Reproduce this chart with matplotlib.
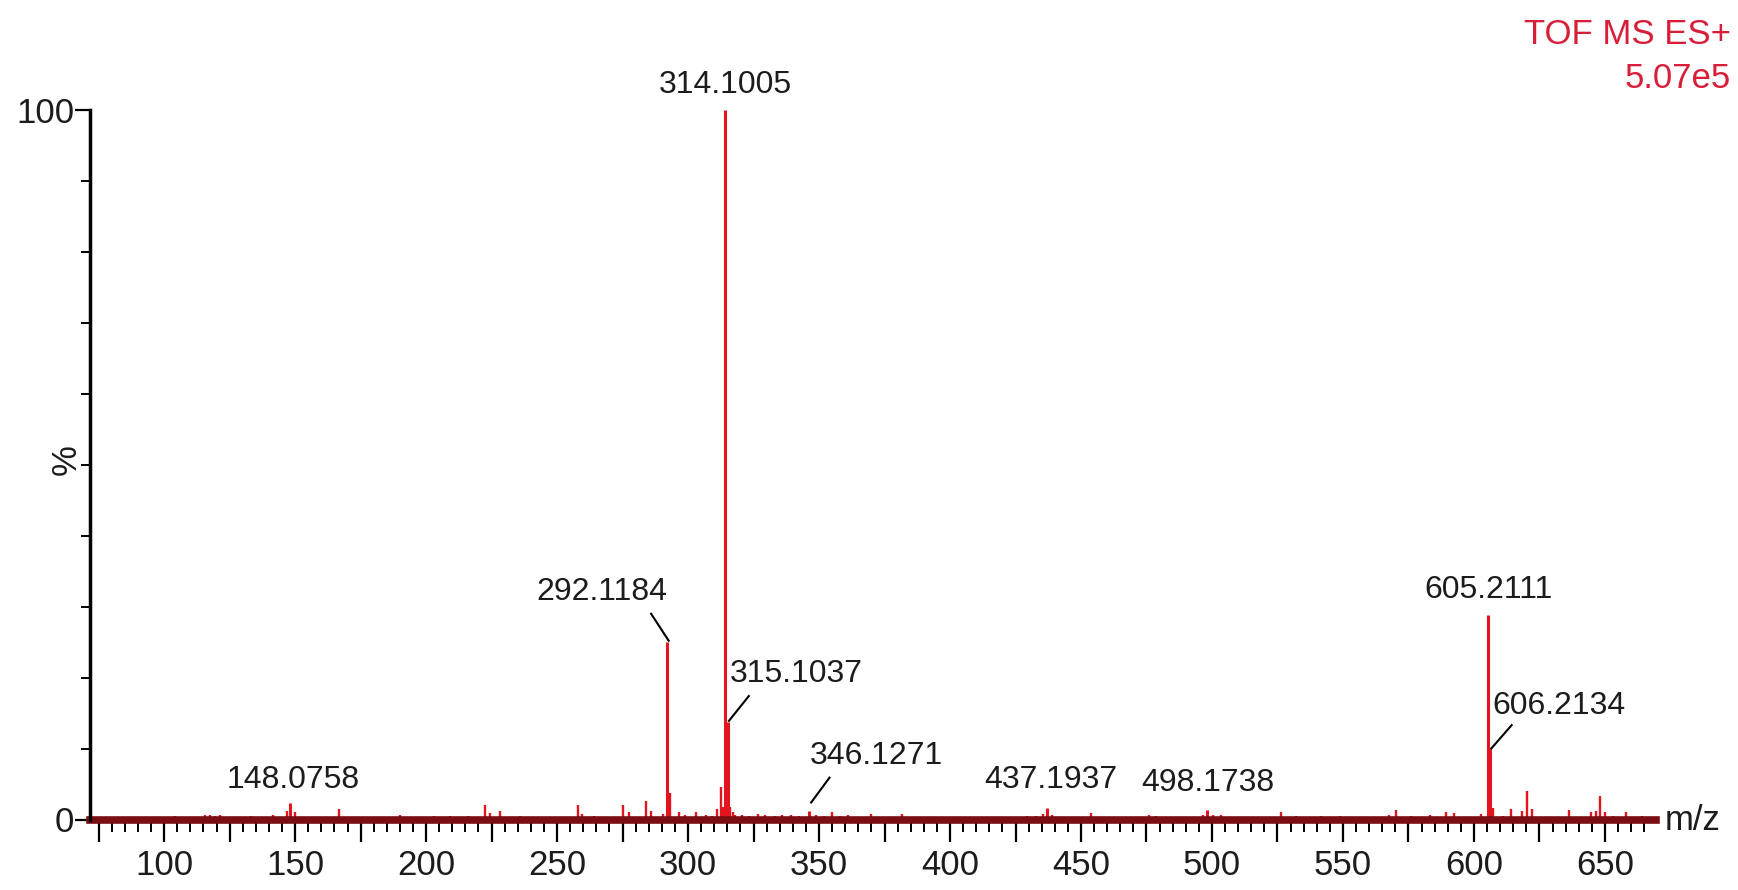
import matplotlib
matplotlib.use("Agg")
import matplotlib.pyplot as plt
from matplotlib.ticker import MultipleLocator, FuncFormatter
from matplotlib import font_manager as fm

# ---------------- data ----------------
# labelled peaks (m/z, relative intensity %)
label_mz = [314.1005, 292.1184, 315.1037, 605.2111, 606.2134,
            148.0758, 346.1271, 437.1937, 498.1738]
label_int = [100.0, 25.0, 13.8, 28.8, 10.0, 2.3, 1.2, 1.6, 1.3]
label_txt = ["314.1005", "292.1184", "315.1037", "605.2111", "606.2134",
             "148.0758", "346.1271", "437.1937", "498.1738"]

# other peaks (m/z, %)
minor_mz = [312.7, 293.1, 316.1, 620.4, 648.0, 614.0, 636.3, 644.6, 658.0, 664.0,
            570.1, 583.4, 589.5, 592.5, 602.6, 607.2, 257.9, 275.1, 284.0, 296.7,
            303.1, 306.9, 354.8, 369.9, 104.0, 115.5, 117.5, 119.5, 121.5, 141.7,
            147.0, 166.9, 190.0, 209.0, 216.0, 222.3, 228.4, 236.0, 361.0, 381.6,
            398.0, 429.4, 454.0, 475.8, 478.7, 503.3, 526.5, 532.0, 541.5, 549.0,
            567.5, 320.5, 323.4, 326.8, 329.5, 333.2, 336.0, 339.4, 342.3,
            80.0, 86.0, 92.0, 110.0, 127.0, 133.0, 155.0, 160.0, 173.0, 180.0,
            185.0, 197.0, 203.0, 240.0, 246.0, 251.0, 264.0, 269.0, 280.0, 299.0,
            309.0, 318.0, 350.0, 358.0, 365.0, 375.0, 388.0, 393.0, 405.0, 412.0,
            418.0, 424.0, 433.0, 442.0, 447.0, 460.0, 466.0, 471.0, 484.0, 490.0,
            508.0, 514.0, 520.0, 537.0, 545.0, 555.0, 561.0, 576.0, 597.0, 611.0,
            626.0, 631.0, 640.0, 653.0, 661.0, 666.0,
            277.5, 286.0, 290.5, 311.0, 313.5, 317.2, 349.0, 352.0, 435.5, 439.0,
            496.5, 500.5, 618.5, 622.0, 646.5, 650.0, 150.0, 224.5, 259.5]
minor_int = [4.6, 3.8, 1.8, 4.0, 3.3, 1.5, 1.3, 1.0, 1.0, 0.5,
             1.4, 0.7, 1.0, 0.9, 0.8, 1.6, 2.0, 2.1, 2.6, 1.0,
             1.0, 0.6, 1.0, 0.8, 0.5, 0.6, 0.7, 0.5, 0.6, 0.7,
             1.2, 1.5, 0.6, 0.5, 0.5, 2.0, 1.2, 0.5, 0.6, 0.8,
             0.4, 0.5, 0.9, 0.7, 0.5, 0.6, 1.0, 0.5, 0.5, 0.5,
             0.6, 0.7, 0.5, 0.8, 0.6, 0.5, 0.7, 0.6, 0.5,
             0.3, 0.4, 0.3, 0.4, 0.3, 0.5, 0.4, 0.3, 0.4, 0.3,
             0.4, 0.3, 0.5, 0.4, 0.3, 0.4, 0.5, 0.3, 0.4, 0.6,
             0.5, 0.6, 0.4, 0.5, 0.3, 0.4, 0.3, 0.4, 0.3, 0.4,
             0.3, 0.4, 0.5, 0.3, 0.4, 0.3, 0.4, 0.3, 0.4, 0.3,
             0.4, 0.3, 0.4, 0.3, 0.4, 0.3, 0.4, 0.5, 0.4, 0.5,
             0.4, 0.3, 0.4, 0.5, 0.3, 0.4,
             1.0, 1.2, 0.8, 1.5, 1.8, 1.0, 0.6, 0.5, 0.8, 0.7,
             0.6, 0.6, 1.2, 1.5, 1.2, 1.0, 1.0, 0.9, 0.8]

instrument_txt = "TOF MS ES+"
base_peak_txt = "5.07e5"

# ---------------- styling / layout ----------------
names = {f.name for f in fm.fontManager.ttflist}
if "Liberation Sans Narrow" in names:
    FAM = ["Liberation Sans Narrow", "DejaVu Sans"]
    FS, FS_T = 27, 28
else:
    FAM = ["Liberation Sans", "DejaVu Sans"]
    FS, FS_T = 23, 25
plt.rcParams["font.family"] = FAM

PEAK_C = "#e3141e"
TXT_C = "#1c1c1c"
RED_T = "#d81f3a"

# label placement: (text x, text y, ha, va, leader or None)
label_pos = [
    (314.1, 101.4, "center", "bottom", None),
    (267.1, 32.1, "center", "center", ((285.9, 29.0), (292.6, 25.2))),
    (341.5, 20.5, "center", "center", ((323.2, 17.4), (315.6, 13.9))),
    (605.6, 30.2, "center", "bottom", None),
    (632.5, 16.0, "center", "center", ((614.4, 13.3), (606.6, 10.0))),
    (149.3, 5.6, "center", "center", None),
    (372.0, 8.9, "center", "center", ((354.0, 5.9), (347.0, 2.4))),
    (438.4, 5.5, "center", "center", None),
    (498.4, 5.1, "center", "center", None),
]

W, H = 1738, 890
fig = plt.figure(figsize=(W / 100, H / 100), dpi=100)
x0, x1 = 90, 1656
y0, y1 = 819.5, 110
ax = fig.add_axes([x0 / W, 1 - y0 / H, (x1 - x0) / W, (y0 - y1) / H])
ax.set_xlim(71.7, 669.5)
ax.set_ylim(0, 100)

ax.vlines(minor_mz, 0, minor_int, color=PEAK_C, lw=1.7, zorder=2)
ax.vlines(label_mz, 0, label_int, color=PEAK_C, lw=2.2, zorder=2)

# thick baseline band
ax.axhline(0, color="#7a0e12", lw=5.5, zorder=3, clip_on=False)

for txt, (tx, ty, ha, va, lead) in zip(label_txt, label_pos):
    ax.text(tx, ty, txt, ha=ha, va=va, fontsize=FS, color=TXT_C, clip_on=False, zorder=5)
    if lead is not None:
        (a, b), (c, d) = lead
        ax.plot([a, c], [b, d], color="black", lw=1.5, zorder=5, clip_on=False)

for s in ("top", "right"):
    ax.spines[s].set_visible(False)
ax.spines["left"].set_linewidth(2.5)
ax.spines["bottom"].set_linewidth(2.0)
ax.spines["left"].set_zorder(6)

ax.xaxis.set_major_locator(MultipleLocator(25))
ax.xaxis.set_minor_locator(MultipleLocator(5))
ax.xaxis.set_major_formatter(FuncFormatter(lambda v, p: f"{int(round(v))}" if round(v) % 50 == 0 else ""))
ax.tick_params(axis="x", which="major", direction="out", length=16, width=1.6,
               labelsize=FS_T, pad=5, colors="black", labelcolor=TXT_C)
ax.tick_params(axis="x", which="minor", direction="out", length=8.5, width=1.4)

ax.set_yticks([0, 100])
ax.set_yticklabels(["0", "100"])
ax.yaxis.set_minor_locator(MultipleLocator(10))
ax.tick_params(axis="y", which="major", direction="out", length=10.5, width=1.6,
               labelsize=FS_T, pad=1, labelcolor=TXT_C)
ax.tick_params(axis="y", which="minor", direction="out", length=6.5, width=1.4)

fig.text(66 / W, 1 - 460 / H, "%", rotation=90, ha="center", va="center",
         fontsize=FS_T, color=TXT_C)
fig.text(1665 / W, 1 - 820 / H, "m/z", ha="left", va="center", fontsize=FS_T, color=TXT_C)
fig.text(1731 / W, 1 - 35 / H, instrument_txt, ha="right", va="center", fontsize=FS_T, color=RED_T)
fig.text(1731 / W, 1 - 78 / H, base_peak_txt, ha="right", va="center", fontsize=FS_T, color=RED_T)

fig.savefig("out.png", dpi=100)
